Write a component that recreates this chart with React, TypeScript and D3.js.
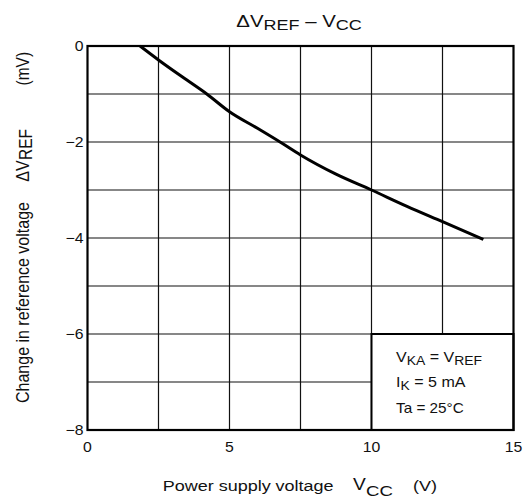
import React from "react";
import * as d3 from "d3";

const vcc = [1.85, 2.5, 3.5, 4.2, 5, 6, 6.78, 7.5, 8.75, 10, 11.25, 12.5, 13.94];
const dVref = [0, -0.29, -0.71, -1.0, -1.37, -1.72, -2.0, -2.27, -2.67, -3.0, -3.34, -3.66, -4.03];
const xTicks = [0, 5, 10, 15];
const xGrid = [2.5, 5, 7.5, 10, 12.5];
const yTicks = [0, -2, -4, -6, -8];
const yGrid = [-1, -2, -3, -4, -5, -6, -7];

const W = 529;
const H = 500;
const left = 87.5;
const right = 513.5;
const top = 46;
const bottom = 430;
const SX = 1.18;

type TProps = {
  x: number;
  y: number;
  sx?: number;
  size: number;
  anchor?: "start" | "middle" | "end";
  children: React.ReactNode;
};

function T({ x, y, sx = SX, size, anchor = "start", children }: TProps) {
  return (
    <text
      transform={`translate(${x},${y}) scale(${sx},1)`}
      fontSize={size}
      textAnchor={anchor}
      fill="#111"
    >
      {children}
    </text>
  );
}

// Rotated text: reads bottom-to-top, glyph height stretched horizontally
function R({ x, y, size, anchor = "start", children }: TProps) {
  return (
    <text
      transform={`translate(${x},${y}) scale(1.15,1) rotate(-90)`}
      fontSize={size}
      textAnchor={anchor}
      fill="#111"
    >
      {children}
    </text>
  );
}

export default function App() {
  const x = d3.scaleLinear().domain([0, 15]).range([left, right]);
  const y = d3.scaleLinear().domain([0, -8]).range([top, bottom]);
  const line = d3
    .line<number>()
    .x((_, i) => x(vcc[i]))
    .y((d) => y(d))
    .curve(d3.curveMonotoneX);
  const font = "Arial, 'Liberation Sans', Helvetica, sans-serif";
  const fmt = (v: number) => (v < 0 ? "\u2212" + Math.abs(v) : String(v));

  return (
    <svg
      width={W}
      height={H}
      style={{ position: "absolute", left: 0, top: 0, background: "#fff" }}
      fontFamily={font}
    >
      <rect x={0} y={0} width={W} height={H} fill="#fff" />
      {/* grid */}
      {xGrid.map((v) => (
        <line key={"xg" + v} x1={x(v)} x2={x(v)} y1={top} y2={bottom} stroke="#111" strokeWidth={1.2} />
      ))}
      {yGrid.map((v) => (
        <line key={"yg" + v} x1={left} x2={right} y1={y(v)} y2={y(v)} stroke="#111" strokeWidth={1.2} />
      ))}
      {/* legend box */}
      <rect x={x(10)} y={y(-6)} width={right - x(10)} height={bottom - y(-6)} fill="#fff" stroke="#000" strokeWidth={2} />
      {/* frame */}
      <rect x={left} y={top} width={right - left} height={bottom - top} fill="none" stroke="#000" strokeWidth={2.2} />
      {/* curve */}
      <path d={line(dVref) || ""} fill="none" stroke="#000" strokeWidth={3} />
      {/* ticks */}
      {xTicks.map((v) => (
        <T key={"xt" + v} x={x(v)} y={452} size={14} sx={1.13} anchor="middle">
          {v}
        </T>
      ))}
      {yTicks.map((v) => (
        <T key={"yt" + v} x={83.5} y={y(v) + 5} size={14} sx={1.13} anchor="end">
          {fmt(v)}
        </T>
      ))}
      {/* legend text */}
      <T x={396} y={362} size={15} sx={1.07}>
        V<tspan dy={2.5} fontSize={13}>KA</tspan>
        <tspan dy={-2.5}> = V</tspan>
        <tspan dy={2.5} fontSize={13}>REF</tspan>
      </T>
      <T x={396} y={387} size={15} sx={1.07}>
        I<tspan dy={2.5} fontSize={13}>K</tspan>
        <tspan dy={-2.5}> = 5 mA</tspan>
      </T>
      <T x={396} y={413} size={15} sx={1.02}>
        Ta = 25°C
      </T>
      {/* title */}
      <T x={299} y={27} size={17} sx={1.2} anchor="middle">
        ΔV<tspan dy={2.5} fontSize={15}>REF</tspan>
        <tspan dy={-2.5}> – V</tspan>
        <tspan dy={2.5} fontSize={15}>CC</tspan>
      </T>
      {/* x label */}
      <T x={162.7} y={491} size={15} sx={1.2}>
        Power supply voltage
      </T>
      <T x={353} y={490} size={16} sx={1.2}>
        V
      </T>
      <T x={366} y={496} size={15.5} sx={1.2}>
        CC
      </T>
      <T x={413} y={491} size={15} sx={1.2}>
        (V)
      </T>
      {/* y label */}
      <R x={29} y={403} size={16}>
        Change in reference voltage
      </R>
      <R x={29} y={181.7} size={16}>
        ΔV
      </R>
      <R x={32} y={160} size={15.5}>
        REF
      </R>
      <R x={29} y={85.5} size={15.5}>
        (mV)
      </R>
    </svg>
  );
}
